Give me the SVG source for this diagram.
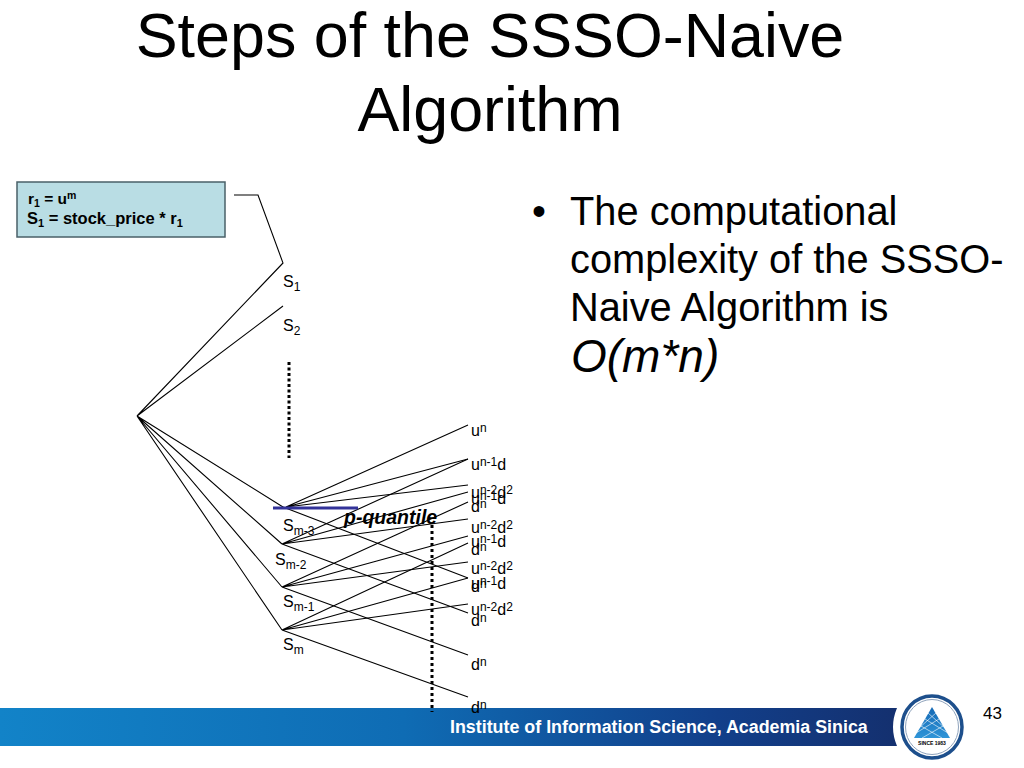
<svg xmlns="http://www.w3.org/2000/svg" width="1024" height="768" viewBox="0 0 1024 768">
<style>
text{font-family:"Liberation Sans",Arial,sans-serif;fill:#000}
.t{font-size:62.8px}
.b{font-size:39.8px}
.n{font-size:16px}
.s{font-size:12px}
.e{stroke:#000;stroke-width:1.1;fill:none}
</style>
<defs>
<linearGradient id="bar" x1="0" x2="1" y1="0" y2="0"><stop offset="0" stop-color="#1283c8"/><stop offset="0.45" stop-color="#0f6cb4"/><stop offset="0.8" stop-color="#123f8a"/><stop offset="1" stop-color="#14306f"/></linearGradient>
<linearGradient id="tri" x1="0" x2="0" y1="0" y2="1"><stop offset="0" stop-color="#1468b4"/><stop offset="1" stop-color="#2f95d8"/></linearGradient>
</defs>
<rect width="1024" height="768" fill="#fff"/>
<g id="title">
<text class="t" x="490" y="57" text-anchor="middle">Steps of the SSSO-Naive</text>
<text class="t" x="490" y="131" text-anchor="middle">Algorithm</text>
</g>
<g id="footer">
<path d="M0 708H897Q889 727 897 746H0Z" fill="url(#bar)"/>
<text x="450" y="733" font-size="17.85" font-weight="bold" style="fill:#fff">Institute of Information Science, Academia Sinica</text>
<ellipse cx="932" cy="727" rx="30" ry="31" fill="#fff" stroke="#1d4f8c" stroke-width="3.5"/>
<ellipse cx="932" cy="727" rx="26.5" ry="27.5" fill="none" stroke="#8fa3bc" stroke-width="1"/>
<path d="M932 707L950 738H914Z" fill="url(#tri)"/>
<path d="M921 726L942 738M925 719L948 733M928 713L945 728M943 726L922 738M939 719L916 733M936 713L919 728" stroke="#fff" stroke-width="0.7" fill="none" opacity="0.85"/>
<text x="932" y="745" font-size="5" font-weight="bold" text-anchor="middle">SINCE 1983</text>
<text x="983" y="719" font-size="17">43</text>
</g>
<g id="bullet">
<text class="b" x="532" y="225">•</text>
<text class="b" x="570" y="225">The computational</text>
<text class="b" x="570" y="273">complexity of the SSSO-</text>
<text class="b" x="570" y="321">Naive Algorithm is</text>
<text x="571" y="372" font-style="italic" font-size="46">O(m*n)</text>
</g>
<g id="connectors">
<path class="e" d="M234 195H258L283 263L137 416L283 306M137 416L283 507M137 416L282 544M137 416L282 587M137 416L282 630"/>
<path class="e" d="M286 507L468 425M286 507L468 459M286 507L468 485M283 507L468 578"/>
<path class="e" d="M282 544L468 459M282 544L468 492M282 544L468 519M282 544L468 613"/>
<path class="e" d="M282 587L468 502M282 587L468 536M282 587L468 562M282 587L468 655"/>
<path class="e" d="M282 630L468 543M282 630L468 578M282 630L468 604M282 630L468 697"/>
<path d="M289 362V458" stroke="#000" stroke-width="3" stroke-dasharray="3 2.5" fill="none"/>
<path d="M432 525V712" stroke="#000" stroke-width="3" stroke-dasharray="3 3" fill="none"/>
<path d="M273 508H358" stroke="#333399" stroke-width="3" fill="none"/>
</g>
<g id="box">
<rect x="17" y="182" width="208" height="55" fill="#b9dde4" stroke="#4a6068" stroke-width="1.5"/>
<text x="28" y="204" font-size="15.5" font-weight="bold">r<tspan font-size="10.5" dy="3">1</tspan><tspan dy="-3"> = u</tspan><tspan font-size="10.5" dy="-5">m</tspan></text>
<text x="27" y="224" font-size="16.5" font-weight="bold">S<tspan font-size="11" dy="3">1</tspan><tspan dy="-3"> = stock_price * r</tspan><tspan font-size="11" dy="3">1</tspan></text>
</g>
<g id="s-labels">
<text class="n" x="283" y="287">S<tspan class="s" dy="4">1</tspan></text>
<text class="n" x="283" y="331">S<tspan class="s" dy="4">2</tspan></text>
<text class="n" x="283" y="531">S<tspan class="s" dy="4">m-3</tspan></text>
<text class="n" x="275" y="565">S<tspan class="s" dy="4">m-2</tspan></text>
<text class="n" x="283" y="607">S<tspan class="s" dy="4">m-1</tspan></text>
<text class="n" x="283" y="650">S<tspan class="s" dy="4">m</tspan></text>
</g>
<g id="leaf-labels">
<text class="n" x="471" y="436">u<tspan class="s" dy="-4">n</tspan></text>
<text class="n" x="471" y="470">u<tspan class="s" dy="-4">n-1</tspan><tspan dy="4">d</tspan></text>
<text class="n" x="471" y="498">u<tspan class="s" dy="-4">n-2</tspan><tspan dy="4">d</tspan><tspan class="s" dy="-4">2</tspan></text>
<text class="n" x="471" y="504">u<tspan class="s" dy="-4">n-1</tspan><tspan dy="4">d</tspan></text>
<text class="n" x="471" y="512">d<tspan class="s" dy="-4">n</tspan></text>
<text class="n" x="471" y="533">u<tspan class="s" dy="-4">n-2</tspan><tspan dy="4">d</tspan><tspan class="s" dy="-4">2</tspan></text>
<text class="n" x="471" y="547">u<tspan class="s" dy="-4">n-1</tspan><tspan dy="4">d</tspan></text>
<text class="n" x="471" y="555">d<tspan class="s" dy="-4">n</tspan></text>
<text class="n" x="471" y="574">u<tspan class="s" dy="-4">n-2</tspan><tspan dy="4">d</tspan><tspan class="s" dy="-4">2</tspan></text>
<text class="n" x="471" y="589">u<tspan class="s" dy="-4">n-1</tspan><tspan dy="4">d</tspan></text>
<text class="n" x="471" y="592">d<tspan class="s" dy="-4">n</tspan></text>
<text class="n" x="471" y="615">u<tspan class="s" dy="-4">n-2</tspan><tspan dy="4">d</tspan><tspan class="s" dy="-4">2</tspan></text>
<text class="n" x="471" y="626">d<tspan class="s" dy="-4">n</tspan></text>
<text class="n" x="471" y="670">d<tspan class="s" dy="-4">n</tspan></text>
<text class="n" x="471" y="713">d<tspan class="s" dy="-4">n</tspan></text>
</g>
<g id="quantile"><text x="344" y="524" font-size="19.5" font-weight="bold" font-style="italic">p-quantile</text></g>
</svg>
